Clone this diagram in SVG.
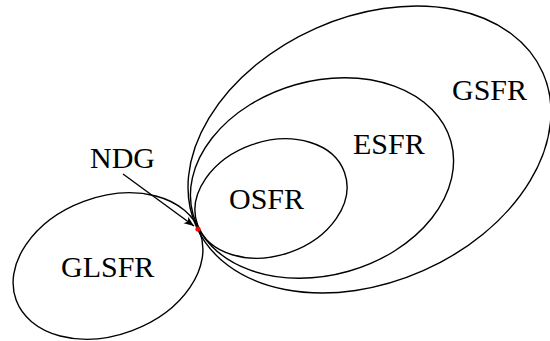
<svg xmlns="http://www.w3.org/2000/svg" width="550" height="341" viewBox="0 0 550 341">
<style>
.e{fill:none;stroke:#000;stroke-width:1.4}
.t{font-family:"Liberation Serif","Times New Roman",serif;font-size:30px;fill:#000}
</style>
<defs>
<marker id="ah" viewBox="0 0 10 10" refX="10" refY="5" markerWidth="10" markerHeight="10" markerUnits="userSpaceOnUse" orient="auto">
<path d="M0,1 L10,5 L0,9 L2.5,5 Z" fill="#000"/>
</marker>
</defs>
<rect width="550" height="341" fill="#fff"/>
<g id="GSFR">
<ellipse class="e" cx="369.5" cy="149.5" rx="189.6" ry="132.6" transform="rotate(-23.9 369.5 149.5)"/>
<text class="t" x="452" y="100">GSFR</text>
</g>
<g id="ESFR">
<ellipse class="e" cx="322" cy="178" rx="134" ry="97" transform="rotate(-15.9 322 178)"/>
<text class="t" x="353" y="154">ESFR</text>
</g>
<g id="OSFR">
<ellipse class="e" cx="271" cy="198.5" rx="78" ry="57" transform="rotate(-19.3 271 198.5)"/>
<text class="t" x="229" y="209">OSFR</text>
</g>
<g id="GLSFR">
<ellipse class="e" cx="108" cy="266" rx="98" ry="69" transform="rotate(-20.5 108 266)"/>
<text class="t" x="61" y="277">GLSFR</text>
</g>
<g id="NDG">
<text class="t" x="90" y="168">NDG</text>
<circle cx="198" cy="229" r="2.6" fill="#ff0000"/>
</g>
<g id="connectors">
<path d="M123,174 L194,226" fill="none" stroke="#000" stroke-width="1.4" marker-end="url(#ah)"/>
</g>
</svg>
